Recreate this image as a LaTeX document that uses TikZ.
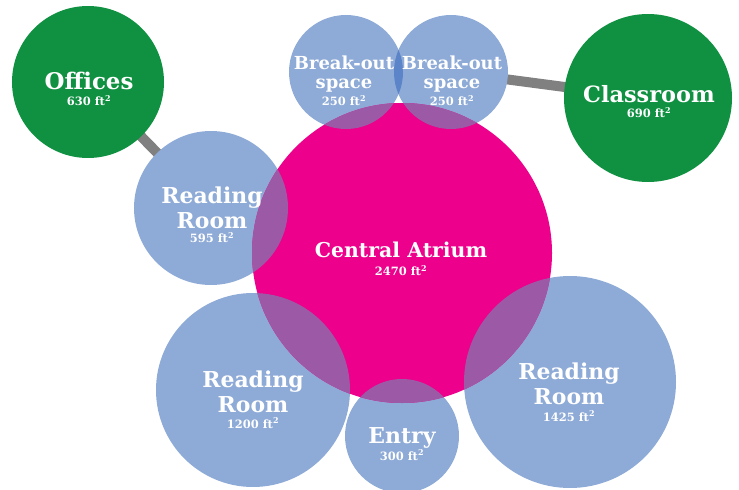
\documentclass[tikz,border=0pt]{standalone}
\usepackage{fontspec}
\setmainfont{DejaVu Serif}
\usepackage{tikz}
\usetikzlibrary{shapes, backgrounds, calc}

\definecolor{roomblue}{RGB}{142,170,214}
\definecolor{roomgreen}{RGB}{16,145,66}
\definecolor{atriumpink}{RGB}{236,0,140}
\definecolor{mixpurple}{RGB}{156,90,166}
\definecolor{mixblue}{RGB}{92,132,200}
\definecolor{linkgray}{RGB}{128,128,128}

\tikzset{
	room/.style={circle, fill=roomblue, inner sep=0pt, minimum size=#1},
	office/.style={room=#1, fill=roomgreen},
	atrium/.style={room=#1, fill=atriumpink},
	roomlink/.style={draw=linkgray, line width=10bp},
	roomlabel/.style={text=white, align=center, inner sep=0pt, anchor=base, font=\bfseries\fontsize{22}{25}\selectfont},
}
\newcommand{\area}[1]{{\fontsize{11.5}{13}\selectfont #1~ft\textsuperscript{2}}}

\begin{document}
\begin{tikzpicture}[x=1bp, y=-1bp]
				\useasboundingbox (0, 0) rectangle (739, 490);
				
				\coordinate (pOff) at (88, 82);
				\coordinate (pCls) at (648, 98);
				\coordinate (pBkL) at (346, 72);
				\coordinate (pBkR) at (451, 72);
				\coordinate (pAtr) at (402, 253);
				\coordinate (pRdA) at (211, 208);
				\coordinate (pRdB) at (253, 390);
				\coordinate (pEnt) at (402, 436);
				\coordinate (pRdC) at (570, 382);
				
				% connectors behind the circles
				\draw[roomlink] (pOff) -- (pRdA);
				\draw[roomlink] (pBkR) -- (pCls);
				
				\node[office=152bp] (off) at (pOff) {};
				\node[office=168bp] (cls) at (pCls) {};
				\node[room=114bp] (bkL) at (pBkL) {};
				\node[room=114bp] (bkR) at (pBkR) {};
				\node[room=154bp] (rdA) at (pRdA) {};
				\node[room=194bp] (rdB) at (pRdB) {};
				\node[room=114bp] (ent) at (pEnt) {};
				\node[room=212bp] (rdC) at (pRdC) {};
				\node[atrium=300bp] (atr) at (pAtr) {};
				
				% overlaps
				\begin{scope}
					\clip (bkL.center) circle (57bp);
					\fill[mixblue] (bkR.center) circle (57bp);
				\end{scope}
				\foreach \n/\r in {bkL/57, bkR/57, rdA/77, rdB/97, ent/57, rdC/106} {
					\begin{scope}
						\clip (atr.center) circle (150bp);
						\fill[mixpurple] (\n.center) circle (\r bp);
					\end{scope}
				}
				
				% labels, placed by the baseline of their last line
				\node[roomlabel, font=\bfseries\fontsize{23}{25}\selectfont] (offT) at (89, 106) {Offices\\[-8pt]\area{630}};
				\node[roomlabel, font=\bfseries\fontsize{22.5}{25}\selectfont] (clsT) at (649, 118) {Classroom\\[-9pt]\area{690}};
				\node[roomlabel, font=\bfseries\fontsize{18}{19}\selectfont] (bkLT) at (344, 106) {Break-out\\space\\[-1pt]\area{250}};
				\node[roomlabel, font=\bfseries\fontsize{18}{19}\selectfont] (bkRT) at (452, 106) {Break-out\\space\\[-1pt]\area{250}};
				\node[roomlabel] (rdAT) at (212, 243) {Reading\\Room\\[-10pt]\area{595}};
				\node[roomlabel, font=\bfseries\fontsize{20.5}{25}\selectfont] (atrT) at (401, 276) {Central Atrium\\[-6pt]\area{2470}};
				\node[roomlabel] (rdBT) at (253, 428) {Reading\\Room\\[-9pt]\area{1200}};
				\node[roomlabel] (entT) at (402, 460) {Entry\\[-8pt]\area{300}};
				\node[roomlabel] (rdCT) at (569, 421) {Reading\\Room\\[-8pt]\area{1425}};
			\end{tikzpicture}
\end{document}
